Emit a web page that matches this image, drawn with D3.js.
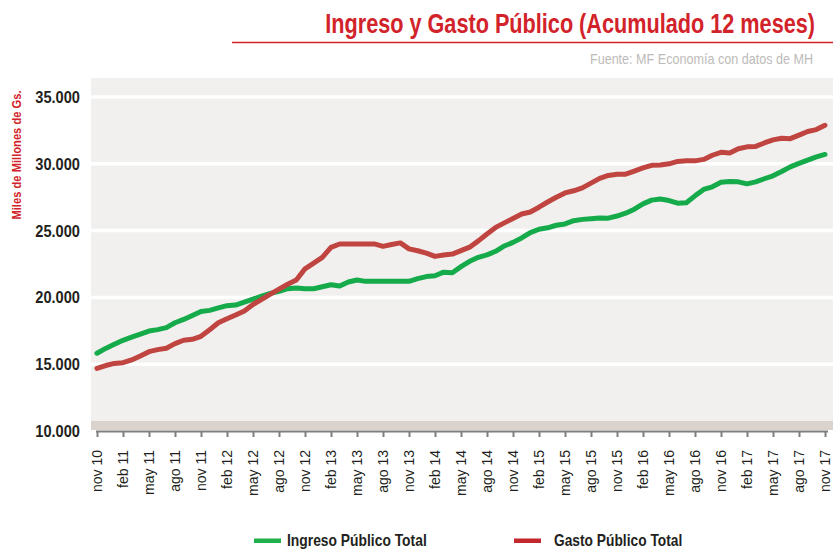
<!DOCTYPE html>
<html>
<head>
<meta charset="utf-8">
<script src="https://cdn.jsdelivr.net/npm/d3@7"></script>
<style>
  body { margin: 0; background: #fff; }
  svg { display: block; }
</style>
</head>
<body>
<div id="chart"></div>
<script>
var svgWidth = 833;
var svgHeight = 549;

// months (nov 10 .. nov 17)
var months = [
  "nov 10","dic 10",
  "ene 11","feb 11","mar 11","abr 11","may 11","jun 11","jul 11","ago 11","sep 11","oct 11","nov 11","dic 11",
  "ene 12","feb 12","mar 12","abr 12","may 12","jun 12","jul 12","ago 12","sep 12","oct 12","nov 12","dic 12",
  "ene 13","feb 13","mar 13","abr 13","may 13","jun 13","jul 13","ago 13","sep 13","oct 13","nov 13","dic 13",
  "ene 14","feb 14","mar 14","abr 14","may 14","jun 14","jul 14","ago 14","sep 14","oct 14","nov 14","dic 14",
  "ene 15","feb 15","mar 15","abr 15","may 15","jun 15","jul 15","ago 15","sep 15","oct 15","nov 15","dic 15",
  "ene 16","feb 16","mar 16","abr 16","may 16","jun 16","jul 16","ago 16","sep 16","oct 16","nov 16","dic 16",
  "ene 17","feb 17","mar 17","abr 17","may 17","jun 17","jul 17","ago 17","sep 17","oct 17","nov 17"
];

// labels shown on the x axis
var tickLabels = [
  "nov 10","feb 11","may 11","ago 11","nov 11","feb 12","may 12","ago 12","nov 12",
  "feb 13","may 13","ago 13","nov 13","feb 14","may 14","ago 14","nov 14","feb 15",
  "may 15","ago 15","nov 15","feb 16","may 16","ago 16","nov 16","feb 17","may 17",
  "ago 17","nov 17"
];

var yTicks = [10000, 15000, 20000, 25000, 30000, 35000];

// Miles de millones de Gs., accumulated 12 months
var ingreso = [
  15820, 16180, 16490, 16790, 17020, 17250, 17480, 17590, 17740, 18100,
  18350, 18650, 18950, 19030, 19210, 19380, 19430, 19650, 19870, 20100,
  20300, 20450, 20650, 20700, 20650, 20650, 20800, 20950, 20850, 21150,
  21300, 21200, 21200, 21200, 21200, 21200, 21200, 21400, 21560, 21620,
  21890, 21850, 22300, 22700, 23000, 23180, 23450, 23850, 24120, 24450,
  24850, 25100, 25210, 25400, 25500, 25740, 25840, 25890, 25950, 25930,
  26090, 26300, 26600, 27000, 27280, 27360, 27250, 27050, 27080, 27600,
  28080, 28280, 28620, 28680, 28650, 28500, 28650, 28880, 29100, 29420,
  29770, 30030, 30280, 30520, 30700
];

var gasto = [
  14680, 14900, 15060, 15110, 15320, 15620, 15940, 16090, 16200, 16540,
  16790, 16860, 17090, 17580, 18100, 18400, 18680, 18990, 19470, 19850,
  20250, 20620, 20980, 21300, 22140, 22560, 23000, 23750, 24000, 24000,
  24000, 24000, 24000, 23820, 23960, 24080, 23630, 23490, 23310, 23070,
  23180, 23240, 23500, 23760, 24230, 24750, 25240, 25580, 25910, 26240,
  26390, 26750, 27140, 27500, 27820, 27980, 28200, 28550, 28910, 29130,
  29220, 29220, 29450, 29690, 29890, 29910, 30000, 30180, 30220, 30220,
  30330, 30640, 30860, 30810, 31130, 31270, 31300, 31560, 31790, 31910,
  31880, 32150, 32420, 32560, 32880
];

var seriesNames = ["Ingreso Público Total", "Gasto Público Total"];

var sans = "'Liberation Sans', Arial, Helvetica, sans-serif";

var svg = d3.select("#chart")
    .append("svg")
    .attr("width", svgWidth)
    .attr("height", svgHeight)
    .attr("font-family", sans);

// plot area box
var plot = { left: 91, right: 833, top: 78, floor: 421 };

var xScale = d3.scalePoint()
    .domain(months)
    .range([97, 825]);

var yScale = d3.scaleLinear()
    .domain([10000, 35000])
    .range([431, 97]);

// condensed look: squeeze Liberation Sans horizontally
function squeezed(g, x, y, k, anchor) {
  return g.append("text")
      .attr("transform", `translate(${x}, ${y}) scale(${k}, 1)`)
      .attr("text-anchor", anchor || "start")
      .attr("font-family", sans);
}

// Title
squeezed(svg, 815, 33, 0.774, "end")
    .attr("font-weight", "bold")
    .attr("font-size", 28)
    .attr("fill", "#d2232a")
    .text("Ingreso y Gasto Público (Acumulado 12 meses)");

svg.append("line")
    .attr("x1", 232).attr("x2", 833)
    .attr("y1", 42.5).attr("y2", 42.5)
    .attr("stroke", "#d2232a")
    .attr("stroke-width", 1.5);

squeezed(svg, 813, 64, 0.9, "end")
    .attr("font-size", 14)
    .attr("fill", "#bdbbb9")
    .text("Fuente: MF Economía con datos de MH");

// Plot background and floor band
svg.append("rect")
    .attr("x", plot.left)
    .attr("y", plot.top)
    .attr("width", plot.right - plot.left)
    .attr("height", plot.floor - plot.top)
    .attr("fill", "#f1f0ee");

svg.append("rect")
    .attr("x", plot.left)
    .attr("y", plot.floor)
    .attr("width", plot.right - plot.left)
    .attr("height", yScale(10000) - plot.floor - 1)
    .attr("fill", "#d9d2cd");

// Gridlines
svg.append("g")
    .selectAll("line")
    .data(yTicks.filter(d => d > 10000))
    .enter()
    .append("line")
    .attr("x1", plot.left)
    .attr("x2", plot.right)
    .attr("y1", d => yScale(d))
    .attr("y2", d => yScale(d))
    .attr("stroke", "#ffffff")
    .attr("stroke-width", 3.5);

// Y axis labels
var locale = d3.formatLocale({ decimal: ",", thousands: ".", grouping: [3], currency: ["", ""] });
var fmt = locale.format(",.0f");

var yLabels = svg.append("g");
yTicks.forEach(function (v) {
  squeezed(yLabels, 80, yScale(v), 0.86, "end")
      .attr("dy", "0.35em")
      .attr("font-weight", "bold")
      .attr("font-size", 17)
      .attr("fill", "#231f20")
      .text(fmt(v));
});

// Y axis title
svg.append("text")
    .attr("transform", "translate(20.5, 155) rotate(-90) scale(0.86, 1)")
    .attr("text-anchor", "middle")
    .attr("font-family", sans)
    .attr("font-weight", "bold")
    .attr("font-size", 13)
    .attr("fill", "#d2232a")
    .text("Miles de Millones de Gs.");

// X axis
var bottomAxis = d3.axisBottom(xScale)
    .tickValues(tickLabels)
    .tickSizeInner(6)
    .tickSizeOuter(0);

var xAxisG = svg.append("g")
    .attr("transform", `translate(0, ${yScale(10000)})`)
    .call(bottomAxis)
    .attr("font-family", sans)
    .attr("font-size", 14);

xAxisG.select(".domain")
    .attr("d", "M96,0.5H828")
    .attr("stroke", "#7f7f7f")
    .attr("stroke-width", 2);
xAxisG.selectAll(".tick line")
    .attr("stroke", "#7f7f7f")
    .attr("stroke-width", 2);
xAxisG.selectAll(".tick text")
    .attr("transform", "rotate(-90)")
    .attr("text-anchor", "end")
    .attr("x", -19)
    .attr("y", 0)
    .attr("dy", "0.35em")
    .style("font-size", "14px")
    .attr("fill", "#231f20");

// Lines
var line = d3.line()
    .x((d, i) => xScale(months[i]))
    .y(d => yScale(d));

svg.append("path")
    .datum(ingreso)
    .attr("d", line)
    .attr("fill", "none")
    .attr("stroke", "#15aa4a")
    .attr("stroke-width", 5)
    .attr("stroke-linejoin", "round")
    .attr("stroke-linecap", "round");

svg.append("path")
    .datum(gasto)
    .attr("d", line)
    .attr("fill", "none")
    .attr("stroke", "#c0443f")
    .attr("stroke-width", 5)
    .attr("stroke-linejoin", "round")
    .attr("stroke-linecap", "round");

// Legend
var legendItems = [
  { name: seriesNames[0], color: "#21b04b", x: 254, tx: 287, k: 0.84 },
  { name: seriesNames[1], color: "#c1272d", x: 514, tx: 554, k: 0.835 }
];

var legend = svg.append("g");
legendItems.forEach(function (item) {
  legend.append("rect")
      .attr("x", item.x)
      .attr("y", 538.5)
      .attr("width", 27)
      .attr("height", 4.5)
      .attr("fill", item.color);
  squeezed(legend, item.tx, 546, item.k)
      .attr("font-weight", "bold")
      .attr("font-size", 16.5)
      .attr("fill", "#231f20")
      .text(item.name);
});
</script>
</body>
</html>
